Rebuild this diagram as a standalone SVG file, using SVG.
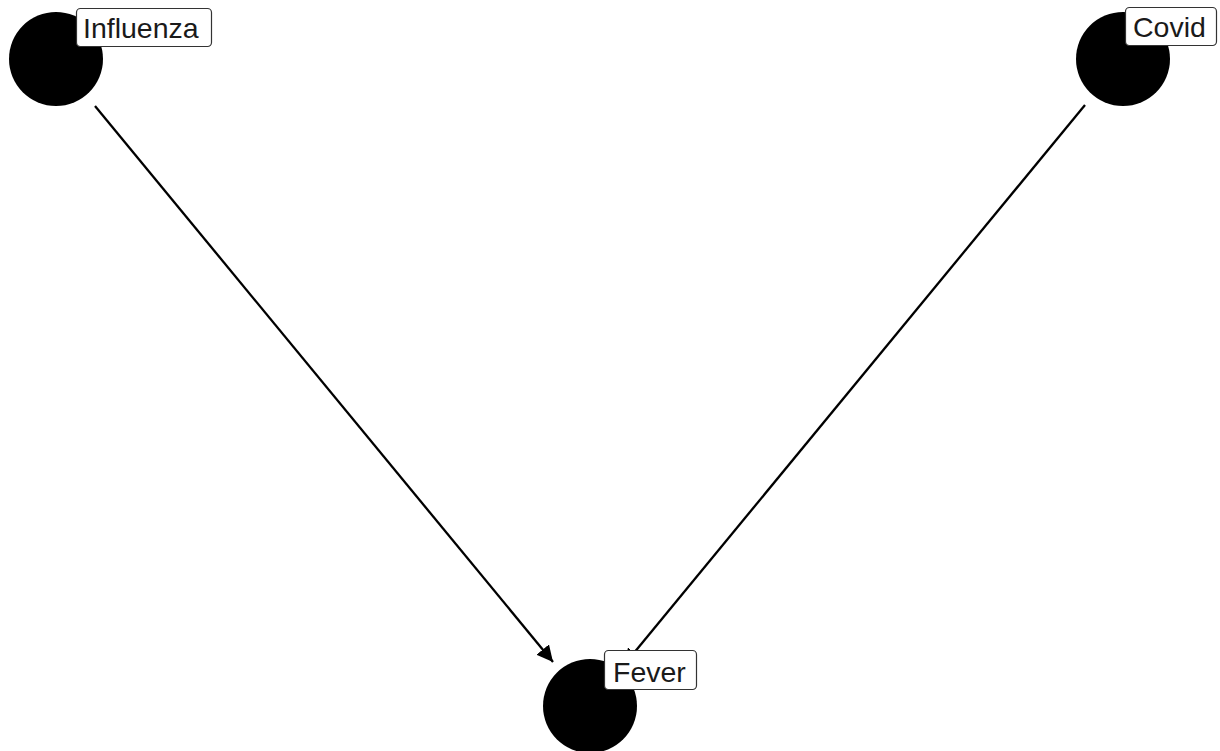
<svg xmlns="http://www.w3.org/2000/svg" width="1220" height="751" viewBox="0 0 1220 751">
<style>
.node{fill:#000}
.lbl{fill:#fff;stroke:#333;stroke-width:1.2}
.txt{font-family:"Liberation Sans",Arial,sans-serif;font-size:28.5px;fill:#1a1a1a}
.edge{stroke:#000;stroke-width:2.3;fill:none}
</style>
<defs>
<marker id="arr" viewBox="0 0 10 10" refX="10" refY="5" markerWidth="7" markerHeight="7" markerUnits="strokeWidth" orient="auto">
<path d="M0,0 L10,5 L0,10 z" fill="#000"/>
</marker>
</defs>
<rect width="1220" height="751" fill="#fff"/>
<g id="connectors">
<line class="edge" x1="95" y1="106" x2="553" y2="662" marker-end="url(#arr)"/>
<line class="edge" x1="1085" y1="105" x2="624" y2="665" marker-end="url(#arr)"/>
</g>
<g id="node-influenza">
<circle class="node" cx="56" cy="59" r="47"/>
<rect class="lbl" x="76.5" y="8.5" width="135" height="38" rx="4"/>
<text class="txt" x="83" y="37.5">Influenza</text>
</g>
<g id="node-covid">
<circle class="node" cx="1123" cy="59" r="47"/>
<rect class="lbl" x="1125.5" y="7.5" width="91" height="38" rx="4"/>
<text class="txt" x="1133" y="36.5">Covid</text>
</g>
<g id="node-fever">
<circle class="node" cx="590" cy="706" r="47"/>
<rect class="lbl" x="604.5" y="650.5" width="92" height="39" rx="4"/>
<text class="txt" x="613" y="681.5">Fever</text>
</g>
</svg>
